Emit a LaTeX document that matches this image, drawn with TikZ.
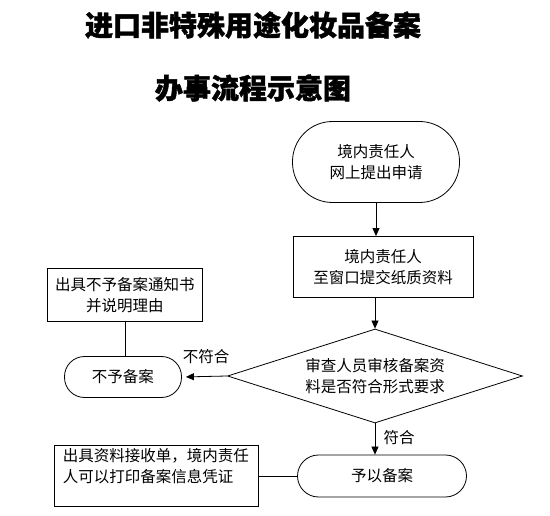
\documentclass[tikz,border=0pt]{standalone}
\usepackage{fontspec}
\setmainfont{Noto Sans CJK SC}
\newfontfamily\heavytitle[FakeBold=1.5]{Noto Sans CJK SC}
\usetikzlibrary{arrows.meta,shapes.geometric}
\begin{document}
\begin{tikzpicture}[x=1pt,y=-1pt,
  base/.style={draw=black, line width=0.8pt, font=\fontsize{15.5}{21}\selectfont, align=center, inner sep=0pt},
  term/.style={base, rectangle, rounded corners=#1},
  proc/.style={base, rectangle},
  decision/.style={base, diamond, aspect=3.14, minimum width=295pt, minimum height=94pt},
  arr/.style={-{Triangle[length=8pt,width=7pt]}, line width=0.8pt},
  conn/.style={line width=0.8pt},
  lbl/.style={font=\fontsize{15.5}{18}\selectfont, inner sep=0pt},
  ttl/.style={font=\fontsize{28}{30}\heavytitle\bfseries, inner sep=0pt}]
\useasboundingbox (0,0) rectangle (550,516);
\node[ttl] (t1) at (253,25) {进口非特殊用途化妆品备案};
\node[ttl] (t2) at (253,88) {办事流程示意图};
\node[term=40pt, minimum width=167pt, minimum height=81pt] (n1) at (376,162) {境内责任人\\网上提出申请};
\node[proc, minimum width=180pt, minimum height=61pt] (n2) at (383,267) {境内责任人\\至窗口提交纸质资料};
\node[decision] (n3) at (375,376) {审查人员审核备案资\\料是否符合形式要求};
\node[term=20pt, minimum width=117pt, minimum height=41pt] (n4) at (123,377) {不予备案};
\node[proc, minimum width=155pt, minimum height=53pt] (n5) at (125,295) {出具不予备案通知书\\并说明理由};
\node[term=21pt, minimum width=169pt, minimum height=42pt] (n6) at (382,476) {予以备案};
\node[proc, minimum width=204pt, minimum height=61pt, align=left] (n7) at (156,476) {出具资料接收单，境内责任\\人可以打印备案信息凭证\\\mbox{}};
\draw[arr] (n1.south) -- (n1.south |- n2.north);
\draw[arr] (n3.north |- n2.south) -- (n3.north);
\draw[arr, shorten >=4pt] (n3.west) -- (n4.east);
\node[lbl] (l1) at (206,357) {不符合};
\draw[arr] (n3.south) -- (n3.south |- n6.north);
\node[lbl] (l2) at (399,438) {符合};
\draw[conn] (n6.west) -- (n7.east |- n6.west);
\draw[conn] (n5.south) -- (n5.south |- n4.north);
\end{tikzpicture}
\end{document}
